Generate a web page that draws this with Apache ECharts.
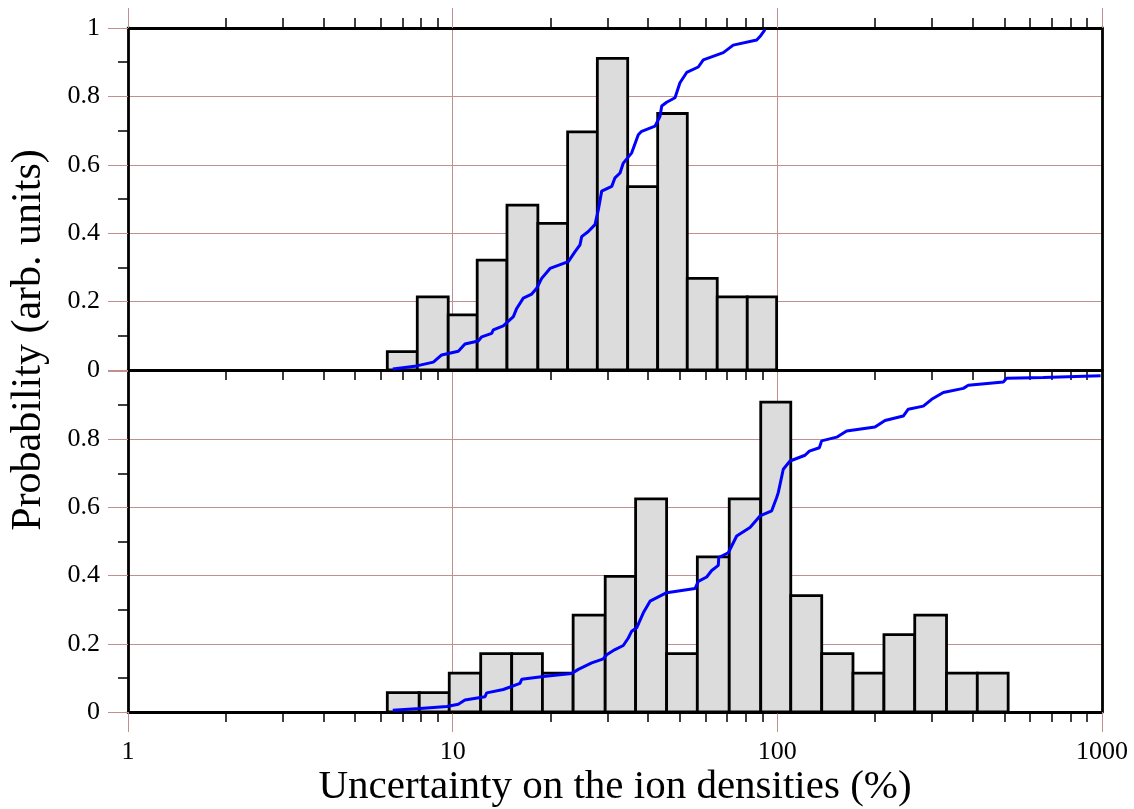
<!DOCTYPE html>
<html>
<head>
<meta charset="utf-8">
<script src="https://cdn.jsdelivr.net/npm/echarts@6/dist/echarts.min.js"></script>
<style>
  html, body { margin: 0; padding: 0; background: #fff; }
  #chart { width: 1134px; height: 809px; }
</style>
</head>
<body>
<div id="chart"></div>
<script>
// histogram bin edges (%) and heights, top panel
var topEdges = [6.29, 7.78, 9.69, 11.9, 14.7, 18.3, 22.6, 27.9, 34.6, 42.8, 52.8, 65.3, 80.8, 99.5];
var topHeights = [0.054, 0.214, 0.161, 0.321, 0.482, 0.429, 0.696, 0.911, 0.536, 0.75, 0.268, 0.214, 0.214];
// cumulative curve, top panel [x, y]
var topCum = [
  [6.54, 0.003], [7.75, 0.012], [8.72, 0.023], [9.25, 0.044], [10.41, 0.055], [10.91, 0.076],
  [11.99, 0.085], [12.29, 0.097], [13.19, 0.107], [13.34, 0.117], [14.32, 0.129], [15.38, 0.156],
  [15.75, 0.18], [16.5, 0.21], [17.52, 0.222], [18.15, 0.239], [18.8, 0.268], [19.95, 0.297],
  [22.71, 0.317], [23.82, 0.346], [24.67, 0.366], [24.97, 0.39], [26.17, 0.405], [27.44, 0.425],
  [28.09, 0.468], [28.77, 0.523], [30.9, 0.537], [31.62, 0.562], [32.77, 0.576], [33.54, 0.605],
  [35.6, 0.635], [37.3, 0.688], [38.21, 0.698], [42.01, 0.713], [43.52, 0.742], [44.05, 0.772],
  [45.62, 0.783], [48.4, 0.796], [50.13, 0.84], [52.58, 0.87], [57.09, 0.886], [59.15, 0.907],
  [68.17, 0.928], [73.15, 0.95], [86.38, 0.965], [88.43, 0.975], [91.62, 0.995]
];

// bottom panel
var botEdges = [6.29, 7.89, 9.76, 12.2, 15.2, 18.9, 23.5, 29.5, 36.6, 45.6, 56.7, 71.1, 88.9,
  110, 137, 171, 213, 265, 332, 413, 514];
var botHeights = [0.057, 0.057, 0.114, 0.171, 0.171, 0.114, 0.284, 0.398, 0.625, 0.171, 0.455,
  0.625, 0.909, 0.341, 0.171, 0.114, 0.227, 0.284, 0.114, 0.114];
var botCum = [
  [6.54, 0.005], [7.93, 0.01], [9.59, 0.016], [10.41, 0.023], [10.91, 0.035], [12.58, 0.045],
  [12.73, 0.056], [14.32, 0.066], [16.12, 0.084], [16.32, 0.096], [19.02, 0.104], [23.26, 0.113],
  [24.38, 0.125], [26.81, 0.144], [29.11, 0.156], [29.82, 0.168], [31.62, 0.183], [33.54, 0.195],
  [34.75, 0.217], [35.6, 0.237], [36.88, 0.247], [38.66, 0.291], [40.54, 0.325], [45.62, 0.35],
  [55.78, 0.362], [57.09, 0.383], [60.59, 0.396], [62.78, 0.415], [65.8, 0.43], [66.0, 0.453],
  [70.63, 0.467], [74.95, 0.516], [82.38, 0.541], [88.43, 0.575], [96.09, 0.59], [99.54, 0.629],
  [100.7, 0.644], [104.3, 0.712], [109.4, 0.736], [121.7, 0.753], [125.5, 0.765], [134.7, 0.775],
  [136.9, 0.795], [152.3, 0.806], [163.5, 0.824], [199.9, 0.836], [214.6, 0.855], [244.3, 0.868],
  [253.1, 0.888], [281.6, 0.897], [298.8, 0.917], [324.5, 0.937], [374.0, 0.949], [387.5, 0.958],
  [496.6, 0.968], [508.6, 0.979], [659.5, 0.981], [990, 0.986]
];

// axis ticks
var xMinorTicks = [2, 3, 4, 5, 6, 7, 8, 9, 20, 30, 40, 50, 60, 70, 80, 90,
  200, 300, 400, 500, 600, 700, 800, 900];
var yTickStep = 0.2;

var serif = "Liberation Serif";
var gridColor = "#c09090";

function binData(edges, heights) {
  return heights.map(function(h, i) {
    return [edges[i], edges[i + 1], h];
  });
}

function renderBar(params, api) {
  var p0 = api.coord([api.value(0), 0]);
  var p1 = api.coord([api.value(1), api.value(2)]);
  return {
    type: "rect",
    shape: { x: p0[0], y: p1[1], width: p1[0] - p0[0], height: p0[1] - p1[1] },
    style: { fill: "#dcdcdc", stroke: "#000", lineWidth: 2.8 }
  };
}

// log x axis: one copy draws frame + minor ticks, another draws majors + grid
function minorX(grid, pos) {
  return {
    type: "log", logBase: 10, min: 1, max: 1000, gridIndex: grid, position: pos,
    axisLine: { show: true, onZero: false, lineStyle: { color: "#000", width: 2.8 } },
    axisTick: { show: true, customValues: xMinorTicks, length: 10, lineStyle: { color: "#000", width: 1.5 } },
    axisLabel: { show: false },
    splitLine: { show: false }
  };
}

function majorX(grid, pos, labels) {
  return {
    type: "log", logBase: 10, min: 1, max: 1000, gridIndex: grid, position: pos,
    axisLine: { show: false, onZero: false },
    axisTick: { show: true, length: 20, lineStyle: { color: gridColor, width: 1 } },
    axisLabel: {
      show: labels, margin: 27, color: "#000", fontFamily: serif, fontSize: 26,
      formatter: function(v) { return String(Math.round(v)); }
    },
    splitLine: { show: true, lineStyle: { color: gridColor, width: 1 } }
  };
}

function leftY(grid, showMax) {
  return {
    type: "value", min: 0, max: 1, interval: yTickStep, gridIndex: grid, position: "left",
    axisLine: { show: true, onZero: false, lineStyle: { color: "#000", width: 2.8 } },
    axisTick: { show: true, length: 20, lineStyle: { color: gridColor, width: 1 } },
    minorTick: { show: true, splitNumber: 2, length: 10, lineStyle: { color: "#000", width: 1.5 } },
    axisLabel: {
      margin: 28, color: "#000", fontFamily: serif, fontSize: 26, showMaxLabel: showMax,
      formatter: function(v) { return String(Math.round(v * 10) / 10); }
    },
    splitLine: { show: true, lineStyle: { color: gridColor, width: 1 } }
  };
}

function rightY(grid) {
  return {
    type: "value", min: 0, max: 1, gridIndex: grid, position: "right",
    axisLine: { show: true, onZero: false, lineStyle: { color: "#000", width: 2.8 } },
    axisTick: { show: false }, axisLabel: { show: false }, splitLine: { show: false }
  };
}

var myChart = echarts.init(document.getElementById("chart"), null, { renderer: "canvas" });

var bottomMajor = majorX(1, "bottom", true);
bottomMajor.name = "Uncertainty on the ion densities (%)";
bottomMajor.nameLocation = "middle";
bottomMajor.nameGap = 55;
bottomMajor.nameTextStyle = { color: "#000", fontFamily: serif, fontSize: 41 };

// an empty grid, only to carry the shared y title
var titleY = {
  type: "value", min: 0, max: 1, gridIndex: 2, position: "left",
  name: "Probability (arb. units)", nameLocation: "middle", nameGap: 80,
  nameTextStyle: { color: "#000", fontFamily: serif, fontSize: 42 },
  axisLine: { show: false }, axisTick: { show: false }, axisLabel: { show: false },
  splitLine: { show: false }
};
var titleX = {
  type: "value", min: 0, max: 1, gridIndex: 2, show: false, splitLine: { show: false }
};

var option = {
  animation: false,
  backgroundColor: "#fff",
  grid: [
    { left: 128, top: 28, width: 974, height: 342 },
    { left: 128, top: 371, width: 974, height: 342 },
    { left: 128, top: 28, width: 974, height: 624 }
  ],
  xAxis: [
    minorX(0, "bottom"),
    minorX(0, "top"),
    majorX(0, "top", false),
    minorX(1, "bottom"),
    bottomMajor,
    titleX
  ],
  yAxis: [
    leftY(0, true),
    rightY(0),
    leftY(1, false),
    rightY(1),
    titleY
  ],
  series: [
    {
      type: "custom", xAxisIndex: 0, yAxisIndex: 0,
      renderItem: renderBar, encode: { x: [0, 1], y: 2 },
      data: binData(topEdges, topHeights), z: 2
    },
    {
      type: "line", xAxisIndex: 0, yAxisIndex: 0, showSymbol: false,
      lineStyle: { color: "#0000ff", width: 3 }, data: topCum, z: 3
    },
    {
      type: "custom", xAxisIndex: 3, yAxisIndex: 2,
      renderItem: renderBar, encode: { x: [0, 1], y: 2 },
      data: binData(botEdges, botHeights), z: 2
    },
    {
      type: "line", xAxisIndex: 3, yAxisIndex: 2, showSymbol: false,
      lineStyle: { color: "#0000ff", width: 3 }, data: botCum, z: 3
    }
  ]
};

myChart.setOption(option);
window.addEventListener("resize", function() {
  myChart.resize();
});
</script>
</body>
</html>
